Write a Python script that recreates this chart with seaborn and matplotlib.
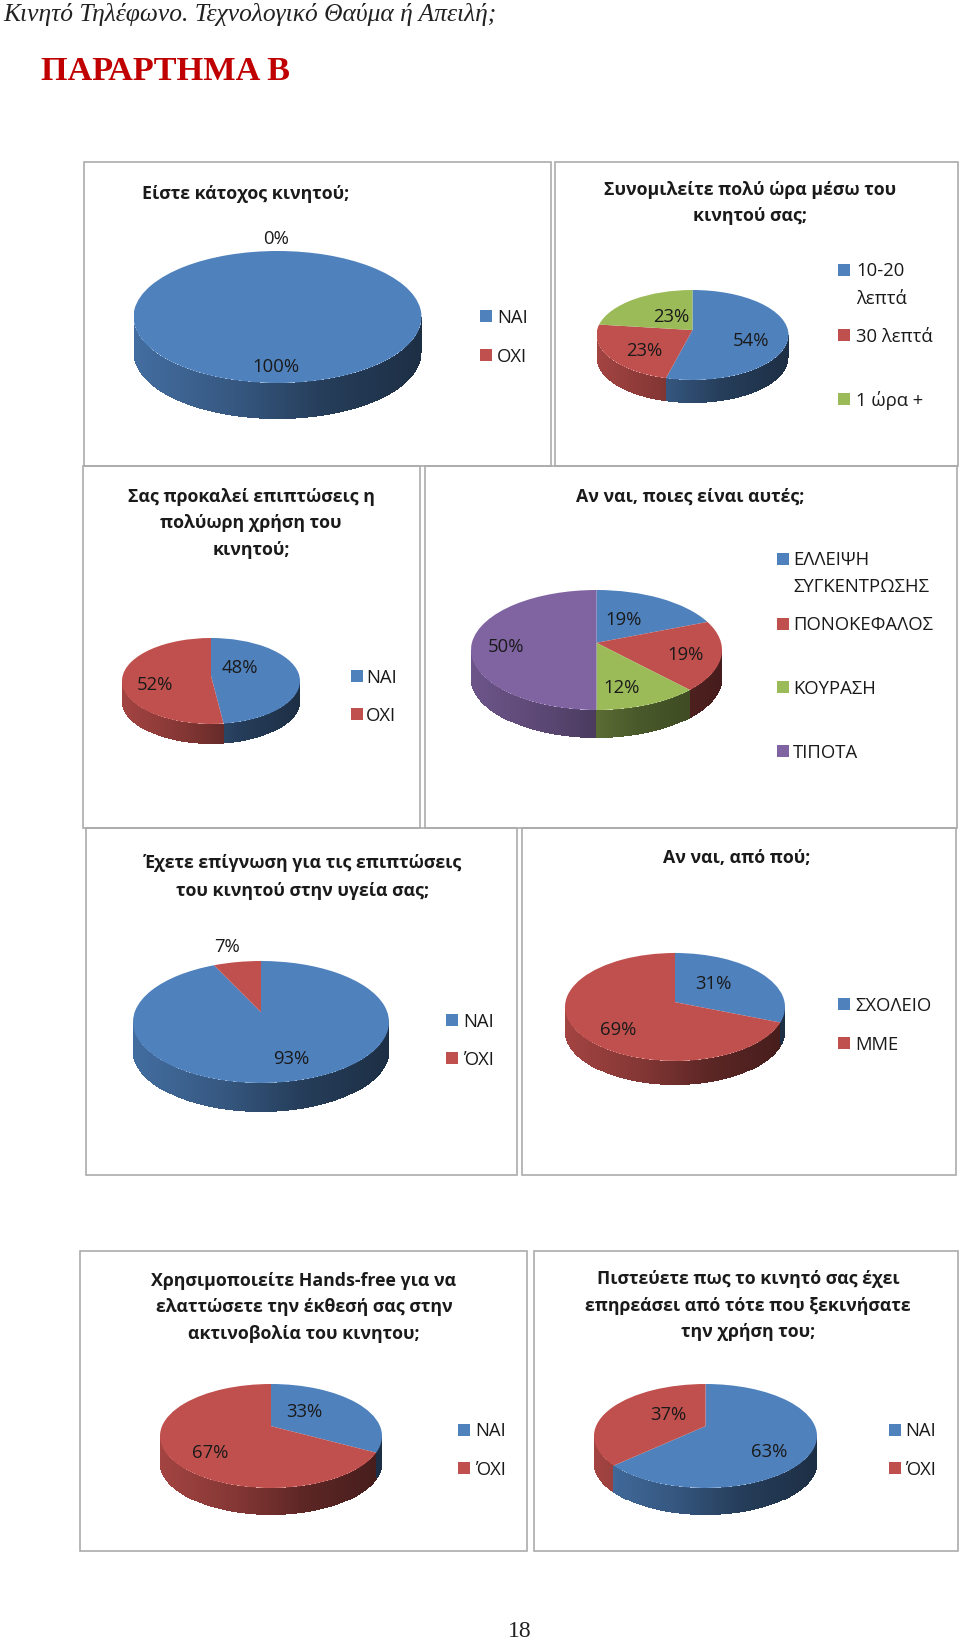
import numpy as np
import matplotlib
matplotlib.use('Agg')
import matplotlib.pyplot as plt
from matplotlib.patches import Rectangle, PathPatch
from matplotlib.path import Path
from matplotlib.colors import to_rgb
import seaborn as sns

# survey answers, one list per pie
owner_values = [100, 0]
talk_values = [54, 23, 23]
effects_values = [48, 52]
which_values = [19, 19, 12, 50]
aware_values = [93, 7]
source_values = [31, 69]
handsfree_values = [33, 67]
affected_values = [63, 37]

yes_no = ['ΝΑΙ', 'ΟΧΙ']
yes_no_tonos = ['ΝΑΙ', 'ΌΧΙ']
talk_labels = ['10-20\nλεπτά', '30 λεπτά', '1 ώρα +']
which_labels = ['ΕΛΛΕΙΨΗ\nΣΥΓΚΕΝΤΡΩΣΗΣ', 'ΠΟΝΟΚΕΦΑΛΟΣ', 'ΚΟΥΡΑΣΗ', 'ΤΙΠΟΤΑ']
source_labels = ['ΣΧΟΛΕΙΟ', 'ΜΜΕ']

W, H = 960, 1644
FONT = 'Open Sans'

sns.set_theme(style='white')
palette = sns.color_palette(['#4F81BD', '#C0504D', '#9BBB59', '#8064A2'])

fig = plt.figure(figsize=(W / 100, H / 100), dpi=100, facecolor='white')


def draw_pie(values, cx, cy, rx, ry, depth, tilt=0.12):
    # own axes squashed to an ellipse, side wall drawn as thin bars under the top
    d = depth / ry
    ax = fig.add_axes([(cx - rx) / W, 1 - (cy + ry + depth) / H, 2 * rx / W, (2 * ry + depth) / H])
    vals = np.array(values, dtype=float)
    edges = np.cumsum(vals) / vals.sum()
    x = np.linspace(-1, 1, int(2 * rx))
    y = -np.sqrt(1 - x ** 2)
    # undo the perspective to find which slice owns each wall column
    y0 = (y - tilt) / (1 - tilt * y)
    x0 = x * np.sqrt(1 - tilt ** 2) / (1 - tilt * y)
    front = ((90 - np.degrees(np.arctan2(y0, x0))) % 360) / 360
    idx = np.minimum(np.searchsorted(edges, front), len(vals) - 1)
    shade = np.interp(x, [-1, -0.3, 0.3, 1], [0.85, 0.68, 0.48, 0.36])
    colors = [tuple(np.array(to_rgb(palette[i])) * s) for i, s in zip(idx, shade)]
    ax.bar(x, d * np.ones_like(x), bottom=y - d, width=(x[1] - x[0]) * 1.3, color=colors,
           linewidth=0, zorder=1)
    wedges, _ = ax.pie(values, colors=palette[:len(values)], startangle=90, counterclock=False,
                       radius=1, wedgeprops={'linewidth': 0, 'zorder': 2})
    # the far side of the original pies is foreshortened, so push the centre back
    for w, col in zip(wedges, palette):
        v = w.get_patch_transform().transform(w.get_path().vertices)
        den = 1 + tilt * v[:, 1]
        warped = np.column_stack([v[:, 0] * np.sqrt(1 - tilt ** 2) / den, (v[:, 1] + tilt) / den])
        ax.add_patch(PathPatch(Path(warped, w.get_path().codes), facecolor=col, linewidth=0, zorder=2))
        w.set_visible(False)
    ax.set_aspect('auto')
    ax.set_xlim(-1, 1)
    ax.set_ylim(-1 - d, 1)
    ax.axis('off')


draw_pie(owner_values, 277.5, 317, 144, 66, 36)
draw_pie(talk_values, 692.5, 335, 96, 45, 23, tilt=0.11)
draw_pie(effects_values, 211, 681, 89, 43, 20)
draw_pie(which_values, 596.5, 650, 125.5, 60, 28)
draw_pie(aware_values, 261, 1022, 128, 61, 29, tilt=0.16)
draw_pie(source_values, 675, 1007, 110, 54, 24, tilt=0.09)
draw_pie(handsfree_values, 271, 1436, 111, 52, 27, tilt=0.19)
draw_pie(affected_values, 705.5, 1436, 111.5, 52, 27, tilt=0.19)

# everything else goes on a top layer in image pixels
top = fig.add_axes([0, 0, 1, 1], zorder=5)
top.set_xlim(0, W)
top.set_ylim(H, 0)
top.axis('off')

top.text(3, 14, 'Κινητό Τηλέφωνο. Τεχνολογικό Θαύμα ή Απειλή;', family='Liberation Serif',
         style='italic', fontsize=18.4, color='#222222', va='center')
top.text(41, 71, 'ΠΑΡΑΡΤΗΜΑ Β', family='Liberation Serif', weight='bold', fontsize=24.7,
         color='#C00000', va='center')
top.text(520, 1631, '18', family='Liberation Serif', fontsize=17, color='#222222', ha='center', va='center')

frames = [(84, 162, 551, 466), (555, 162, 958, 466), (83, 466, 420, 828), (425, 466, 957, 828),
          (86, 828, 517, 1175), (522, 828, 956, 1175), (80, 1251, 527, 1551), (534, 1251, 958, 1551)]
for x0, y0, x1, y1 in frames:
    top.add_patch(Rectangle((x0, y0), x1 - x0, y1 - y0, fill=False, edgecolor='#ABABAB', linewidth=1.2))

titles = [
    ('Είστε κάτοχος κινητού;', 246, [193]),
    ('Συνομιλείτε πολύ ώρα μέσω του\nκινητού σας;', 750, [188.6, 215]),
    ('Σας προκαλεί επιπτώσεις η\nπολύωρη χρήση του\nκινητού;', 251, [496, 522, 549]),
    ('Αν ναι, ποιες είναι αυτές;', 690, [496]),
    ('Έχετε επίγνωση για τις επιπτώσεις\nτου κινητού στην υγεία σας;', 303, [862, 890]),
    ('Αν ναι, από πού;', 737, [857]),
    ('Χρησιμοποιείτε Hands-free για να\nελαττώσετε την έκθεσή σας στην\nακτινοβολία του κινητου;', 304, [1279.6, 1306, 1333]),
    ('Πιστεύετε πως το κινητό σας έχει\nεπηρεάσει από τότε που ξεκινήσατε\nτην χρήση του;', 748, [1277.5, 1305, 1331]),
]
for txt, tx, ys in titles:
    for line, ty in zip(txt.split('\n'), ys):
        top.text(tx, ty + 1, line, family=FONT, weight='bold', fontsize=12.8, color='#1a1a1a', ha='center', va='center')


def draw_legend(labels, box_x, text_x, rows):
    for i, (lab, row) in enumerate(zip(labels, rows)):
        top.add_patch(Rectangle((box_x, row[0] - 6), 12, 12, facecolor=palette[i], edgecolor='none'))
        for line, ly in zip(lab.split('\n'), row):
            top.text(text_x, ly + 1.5, line, family=FONT, fontsize=13.3, color='#1a1a1a', va='center')


draw_legend(yes_no, 480, 497, [[316.5], [355]])
draw_legend(talk_labels, 838, 856, [[270, 297], [335], [399]])
draw_legend(yes_no, 351, 366, [[676], [714]])
draw_legend(which_labels, 777, 793, [[558.6, 585], [623.5], [687.5], [751]])
draw_legend(yes_no_tonos, 446, 463, [[1020], [1058]])
draw_legend(source_labels, 838, 855, [[1004], [1043]])
draw_legend(yes_no_tonos, 458, 475, [[1429.5], [1468]])
draw_legend(yes_no_tonos, 889, 905.5, [[1429.5], [1468]])


def draw_labels(values, spots):
    for v, (lx, ly) in zip(values, spots):
        top.text(lx, ly + 1.5, f'{v}%', family=FONT, fontsize=13.3, color='#1a1a1a', ha='center', va='center')


draw_labels(owner_values, [(276, 365), (276, 237)])
draw_labels(talk_values, [(751, 339.5), (644.5, 349), (671, 315.5)])
draw_labels(effects_values, [(240, 666.5), (155, 683)])
draw_labels(which_values, [(623.5, 618), (686, 653), (621.5, 686), (506, 645.6)])
draw_labels(aware_values, [(291, 1057), (227, 945)])
draw_labels(source_values, [(713, 982), (618, 1028)])
draw_labels(handsfree_values, [(304, 1410), (210, 1451)])
draw_labels(affected_values, [(769, 1450), (668.6, 1413)])

fig.savefig('out.png', dpi=100)
